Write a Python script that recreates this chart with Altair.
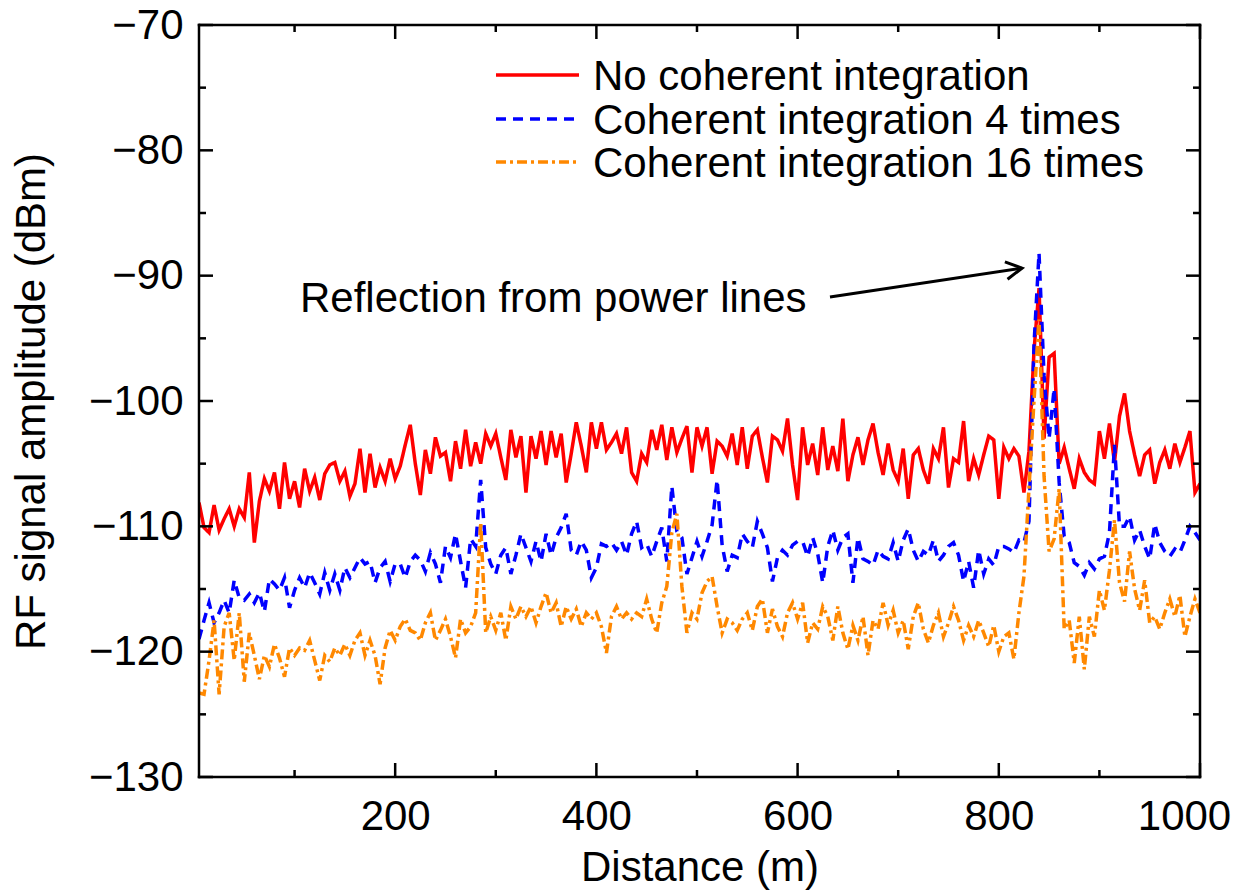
import altair as alt
import pandas as pd

# ---------------- data ----------------
distance = list(range(5, 1001, 5))

red = [
    -108.1, -110.1, -110.5, -108.3, -110.3, -109.4, -108.6, -110.0, -108.6, -109.3,
    -105.7, -111.3, -108.0, -106.2, -107.2, -105.7, -108.6, -104.9, -107.8, -106.4,
    -108.5, -105.4, -107.2, -106.1, -107.9, -105.8, -105.1, -104.9, -106.4, -105.6,
    -107.6, -106.6, -103.8, -107.3, -104.2, -106.9, -105.3, -106.4, -104.6, -106.2,
    -105.2, -103.5, -101.9, -105.0, -107.5, -103.9, -105.8, -102.9, -104.4, -104.1,
    -106.4, -103.2, -105.4, -102.3, -105.2, -103.3, -105.0, -102.6, -103.6, -102.6,
    -104.5, -106.3, -102.3, -104.5, -102.8, -107.3, -102.8, -104.6, -102.4, -105.1,
    -102.4, -104.5, -102.6, -106.5, -104.2, -101.7, -103.6, -105.7, -101.7, -103.8,
    -101.7, -103.9, -103.3, -102.6, -104.2, -102.1, -105.7, -106.4, -104.2, -104.9,
    -102.3, -103.9, -101.9, -104.7, -102.1, -104.1, -103.0, -102.0, -105.7, -102.1,
    -103.6, -102.1, -105.8, -103.2, -103.6, -104.4, -102.6, -105.1, -102.1, -105.4,
    -102.8, -102.3, -104.5, -106.5, -102.8, -103.1, -104.0, -101.4, -105.1, -107.9,
    -102.1, -105.1, -103.4, -105.9, -102.1, -105.5, -103.6, -105.6, -101.4, -106.4,
    -104.3, -102.9, -105.1, -103.1, -101.8, -104.1, -105.9, -103.4, -105.5, -106.4,
    -103.8, -107.8, -104.3, -103.8, -105.5, -106.6, -103.8, -104.6, -102.1, -106.9,
    -104.6, -104.9, -101.6, -106.4, -104.6, -105.9, -104.3, -102.8, -103.1, -107.8,
    -103.7, -104.6, -103.8, -104.4, -107.3, -104.0, -96.0, -91.0, -103.0, -96.5,
    -96.2, -105.0, -103.7, -105.4, -107.0, -104.6, -105.7, -106.3, -106.6, -102.4,
    -104.6, -101.8, -104.9, -101.2, -99.4, -102.4, -104.3, -106.0, -104.3, -103.9,
    -106.6, -104.9, -103.9, -105.4, -103.4, -104.9, -103.7, -102.4, -107.3, -106.6,
]

blue = [
    -119.0, -117.5, -116.1, -117.7, -116.9, -115.9, -116.9, -114.3, -115.7, -115.9,
    -115.4, -116.1, -115.3, -116.8, -114.2, -114.6, -115.1, -114.1, -116.5, -115.1,
    -114.1, -114.9, -113.7, -114.5, -115.4, -113.7, -115.1, -113.8, -115.1, -113.3,
    -114.1, -113.3, -112.5, -113.0, -112.8, -114.5, -113.3, -112.8, -114.4, -113.0,
    -113.0, -114.1, -112.8, -112.3, -112.7, -113.6, -112.1, -113.0, -114.5, -111.6,
    -112.5, -110.6, -112.8, -114.9, -111.0, -111.6, -106.3, -111.7, -113.0, -113.8,
    -112.3, -111.7, -113.8, -112.3, -110.6, -111.7, -112.8, -111.2, -112.8, -110.6,
    -112.3, -110.9, -110.1, -109.0, -111.9, -112.3, -111.2, -111.9, -114.1, -113.3,
    -111.4, -111.6, -111.3, -111.9, -111.2, -112.3, -110.6, -109.6, -111.7, -111.4,
    -112.4, -111.2, -110.1, -112.8, -106.8, -110.4, -110.9, -113.8, -112.5, -111.2,
    -112.4, -111.2, -109.9, -106.3, -111.5, -113.6, -112.3, -112.5, -110.6, -111.2,
    -111.7, -109.6, -110.6, -111.7, -114.4, -112.5, -111.9, -112.3, -111.5, -111.2,
    -111.2, -112.4, -110.9, -112.2, -114.5, -111.6, -110.3, -111.9, -110.9, -110.6,
    -114.5, -110.9, -112.6, -112.8, -113.1, -111.9, -112.4, -112.6, -111.3, -112.8,
    -111.1, -110.2, -111.9, -112.8, -112.0, -112.3, -111.1, -112.8, -112.3, -111.6,
    -111.3, -112.3, -114.4, -112.8, -114.9, -111.9, -113.8, -112.6, -113.1, -111.6,
    -111.6, -111.8, -112.1, -111.1, -111.3, -109.6, -95.5, -88.2, -98.0, -103.0,
    -99.0, -106.5, -110.8, -111.3, -112.9, -113.2, -113.9, -112.9, -113.4, -112.6,
    -112.4, -110.5, -103.5, -110.0, -110.0, -109.2, -111.1, -110.3, -111.6, -112.6,
    -109.8, -111.3, -112.0, -112.4, -111.8, -112.1, -111.1, -110.0, -110.5, -111.1,
]

orange = [
    -123.3, -123.4, -120.7, -117.5, -123.4, -118.0, -116.9, -120.7, -116.9, -122.4,
    -118.5, -120.3, -122.2, -120.3, -121.2, -119.4, -120.5, -122.0, -119.7, -120.3,
    -119.7, -119.9, -119.1, -120.7, -122.3, -120.3, -120.8, -119.7, -120.3, -119.4,
    -120.3, -119.1, -118.5, -120.3, -119.1, -120.3, -122.6, -119.7, -118.3, -119.1,
    -118.0, -117.4, -118.3, -118.5, -119.1, -117.7, -116.9, -119.1, -118.3, -117.4,
    -118.8, -120.5, -117.4, -118.5, -118.0, -116.9, -109.7, -118.5, -117.2, -118.3,
    -116.9, -119.1, -116.4, -117.4, -116.4, -117.2, -116.4, -117.7, -116.4, -115.3,
    -116.9, -116.1, -118.0, -116.4, -117.4, -116.6, -118.0, -116.9, -117.4, -116.9,
    -118.0, -120.1, -117.2, -116.4, -117.4, -116.9, -117.4, -116.9, -117.2, -115.8,
    -117.4, -118.5, -116.1, -114.8, -110.5, -109.0, -114.8, -118.5, -116.9, -117.4,
    -115.3, -114.4, -114.0, -116.4, -118.5, -117.4, -117.7, -118.3, -117.4, -116.9,
    -118.3, -116.4, -115.8, -118.5, -116.6, -118.0, -118.8, -116.9, -116.1, -117.4,
    -116.1, -119.3, -117.7, -118.2, -116.4, -117.2, -119.1, -116.4, -118.5, -119.8,
    -117.9, -119.1, -117.2, -120.3, -117.5, -118.2, -116.1, -117.9, -116.7, -118.5,
    -117.5, -119.8, -117.2, -116.1, -118.2, -119.3, -117.9, -116.9, -118.8, -117.7,
    -116.4, -117.5, -119.1, -117.9, -118.8, -117.5, -118.5, -119.6, -117.9, -120.0,
    -118.8, -118.5, -120.6, -116.9, -114.0, -107.0, -100.0, -93.5, -106.0, -112.0,
    -111.0, -107.0, -118.2, -117.5, -120.9, -117.2, -121.4, -117.2, -118.8, -115.1,
    -116.7, -113.5, -109.5, -114.5, -116.0, -112.0, -115.0, -116.7, -114.3, -117.7,
    -117.2, -118.2, -116.9, -115.8, -117.2, -115.5, -118.8, -117.2, -115.8, -116.9,
]

series_names = [
    "No coherent integration",
    "Coherent integration 4 times",
    "Coherent integration 16 times",
]
series_values = [red, blue, orange]
series_colors = ["#ff0000", "#0000ff", "#ff8800"]
series_dashes = [[1, 0], [10, 7], [10, 4, 3, 4]]

x_major = [200, 400, 600, 800, 1000]
x_minor = [100, 300, 500, 700, 900]
y_major = [-70, -80, -90, -100, -110, -120, -130]
y_minor = [-75, -85, -95, -105, -115, -125]

annotation_text = "Reflection from power lines"
annotation_pos = {"distance": [105.4], "amp": [-92.9]}
arrow_pos = {"distance": [632.2], "amp": [-91.7], "distance2": [823.1], "amp2": [-89.4]}

# ---------------- chart ----------------
FONT = "Liberation Sans"
FS = 42
W, H = 1001, 752

xscale = alt.Scale(domain=[5, 1000], nice=False, zero=False)
yscale = alt.Scale(domain=[-130, -70], nice=False, zero=False)

x_axis = alt.Axis(values=x_major, ticks=False, domain=False, grid=False, format="d",
                  labelFontSize=FS, labelFont=FONT, labelColor="black",
                  labelPadding=19, labelFlush=False,
                  labelOffset={"condition": {"test": "datum.value === 1000", "value": -16},
                               "value": 0},
                  title="Distance (m)", titleFontSize=FS, titleFont=FONT,
                  titleFontWeight="normal", titleColor="black", titlePadding=10)
y_axis = alt.Axis(values=y_major, ticks=False, domain=False, grid=False, format="d",
                  labelFontSize=FS, labelFont=FONT, labelColor="black",
                  labelPadding=16, labelFlush=False,
                  title="RF signal amplitude (dBm)", titleFontSize=FS, titleFont=FONT,
                  titleFontWeight="normal", titleColor="black", titlePadding=35)


def X(field="distance"):
    return alt.X(f"{field}:Q", scale=xscale, axis=x_axis, title="Distance (m)")


def Y(field="amp"):
    return alt.Y(f"{field}:Q", scale=yscale, axis=y_axis, title="RF signal amplitude (dBm)")


layers = []
for name, vals, col, dash in zip(series_names, series_values, series_colors, series_dashes):
    df = pd.DataFrame({"distance": distance, "amp": vals})
    layers.append(
        alt.Chart(df).mark_line(color=col, strokeWidth=3.5, strokeDash=dash, clip=True)
        .encode(x=X(), y=Y())
    )

TW = 2.5
one = pd.DataFrame({"k": [0]})
# plot frame
for enc in (
    dict(x=alt.value(0), x2=alt.value(W), y=alt.value(0)),
    dict(x=alt.value(0), x2=alt.value(W), y=alt.value(H)),
    dict(y=alt.value(0), y2=alt.value(H), x=alt.value(0)),
    dict(y=alt.value(0), y2=alt.value(H), x=alt.value(W)),
):
    layers.append(alt.Chart(one).mark_rule(color="black", strokeWidth=TW, strokeCap="square")
                  .encode(**enc))

# inward ticks (bottom/top for x, left/right for y)
for vals, ln in ((x_major, 14), (x_minor, 7)):
    d = pd.DataFrame({"distance": vals})
    layers.append(alt.Chart(d).mark_rule(color="black", strokeWidth=TW)
                  .encode(x=X(), y=alt.value(H), y2=alt.value(H - ln)))
    layers.append(alt.Chart(d).mark_rule(color="black", strokeWidth=TW)
                  .encode(x=X(), y=alt.value(0), y2=alt.value(ln)))
for vals, ln in ((y_major, 14), (y_minor, 7)):
    d = pd.DataFrame({"amp": vals})
    layers.append(alt.Chart(d).mark_rule(color="black", strokeWidth=TW)
                  .encode(y=Y(), x=alt.value(0), x2=alt.value(ln)))
    layers.append(alt.Chart(d).mark_rule(color="black", strokeWidth=TW)
                  .encode(y=Y(), x=alt.value(W), x2=alt.value(W - ln)))

# legend (drawn by hand inside the plot area)
leg_y = [50, 94, 137]
for name, col, dash, ly in zip(series_names, series_colors, series_dashes, leg_y):
    d = pd.DataFrame({"series": [name]})
    layers.append(alt.Chart(d).mark_rule(color=col, strokeWidth=3.5, strokeDash=dash)
                  .encode(x=alt.value(297), x2=alt.value(380), y=alt.value(ly)))
    layers.append(alt.Chart(d).mark_text(align="left", baseline="middle", font=FONT,
                                         fontSize=FS, color="black", dy=2)
                  .encode(text="series:N", x=alt.value(394), y=alt.value(ly)))

# annotation
ann = pd.DataFrame({**annotation_pos, "label": [annotation_text]})
layers.append(alt.Chart(ann).mark_text(align="left", baseline="alphabetic", font=FONT,
                                       fontSize=FS, color="black")
              .encode(x=X(), y=Y(), text="label:N"))
arr = pd.DataFrame(arrow_pos)
layers.append(alt.Chart(arr).mark_rule(color="black", strokeWidth=3)
              .encode(x=X(), y=Y(), x2="distance2:Q", y2="amp2:Q"))
head = pd.DataFrame({"distance": arrow_pos["distance2"], "amp": arrow_pos["amp2"]})
layers.append(alt.Chart(head).mark_point(shape="M-1,-0.55 L0,0 L-1,0.55", filled=False,
                                         stroke="black", strokeWidth=3, size=1024,
                                         angle=351.4, opacity=1)
              .encode(x=X(), y=Y()))

chart = (
    alt.layer(*layers)
    .properties(width=W, height=H,
                autosize=alt.AutoSizeParams(type="none"),
                padding={"left": 191, "top": 17, "right": 31, "bottom": 115})
    .configure(background="white", font=FONT)
    .configure_view(strokeWidth=0)
)

chart.save("out.html", embed_options={"renderer": "svg", "actions": False})
